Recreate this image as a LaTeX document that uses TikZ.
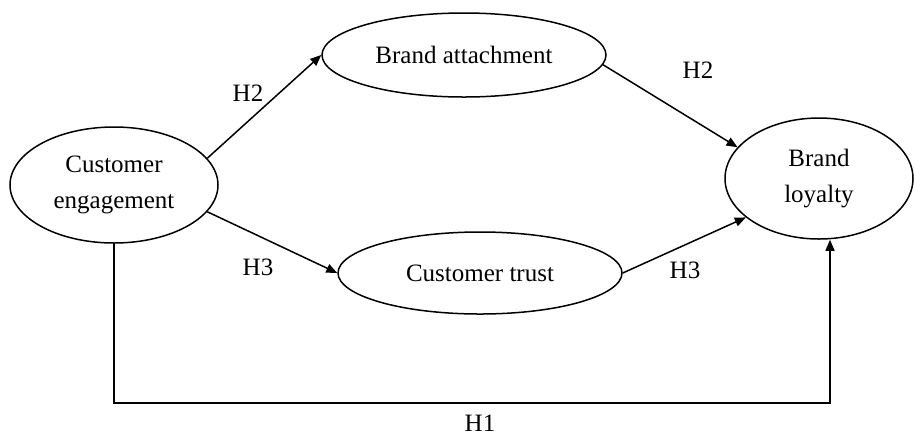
\documentclass[tikz,border=0pt]{standalone}
\usepackage{fontspec}
\setmainfont{Liberation Serif}
\usetikzlibrary{shapes.geometric,arrows.meta}
\begin{document}
\begin{tikzpicture}[x=0.5pt,y=-0.5pt,
  every node/.style={font=\fontsize{12.5}{18}\selectfont},
  oval/.style={draw,ellipse,line width=0.75pt,inner sep=0pt,align=center},
  arr/.style={line width=0.75pt,-{Triangle[length=5.5pt,width=4.5pt]}},
  lbl/.style={inner sep=0pt}]
\useasboundingbox (0,0) rectangle (914,435);
\node[oval,minimum width=104pt,minimum height=58pt] (CE) at (114,185) {Customer\\engagement};
\node[oval,minimum width=142pt,minimum height=42pt] (BA) at (464,55) {Brand attachment};
\node[oval,minimum width=142pt,minimum height=41pt] (CT) at (480,273) {Customer trust};
\node[oval,minimum width=94pt,minimum height=60.5pt] (BL) at (819,178.5) {Brand\\loyalty};
\coordinate (c1) at (830,403);
\draw[arr] (CE.16) -- (BA.west);
\draw[arr] (BA.-4) -- (BL.159);
\draw[arr] (CE.-16.6) -- (CT.west);
\draw[arr] (CT.east) -- (BL.208.4);
\draw[arr] (CE.south) |- (c1) -- (c1 |- BL.south);
\node[lbl] (h2a) at (248,93) {H2};
\node[lbl] (h2b) at (698,70) {H2};
\node[lbl] (h3a) at (258,267) {H3};
\node[lbl] (h3b) at (685,270) {H3};
\node[lbl] (h1) at (480,423) {H1};
\end{tikzpicture}
\end{document}
